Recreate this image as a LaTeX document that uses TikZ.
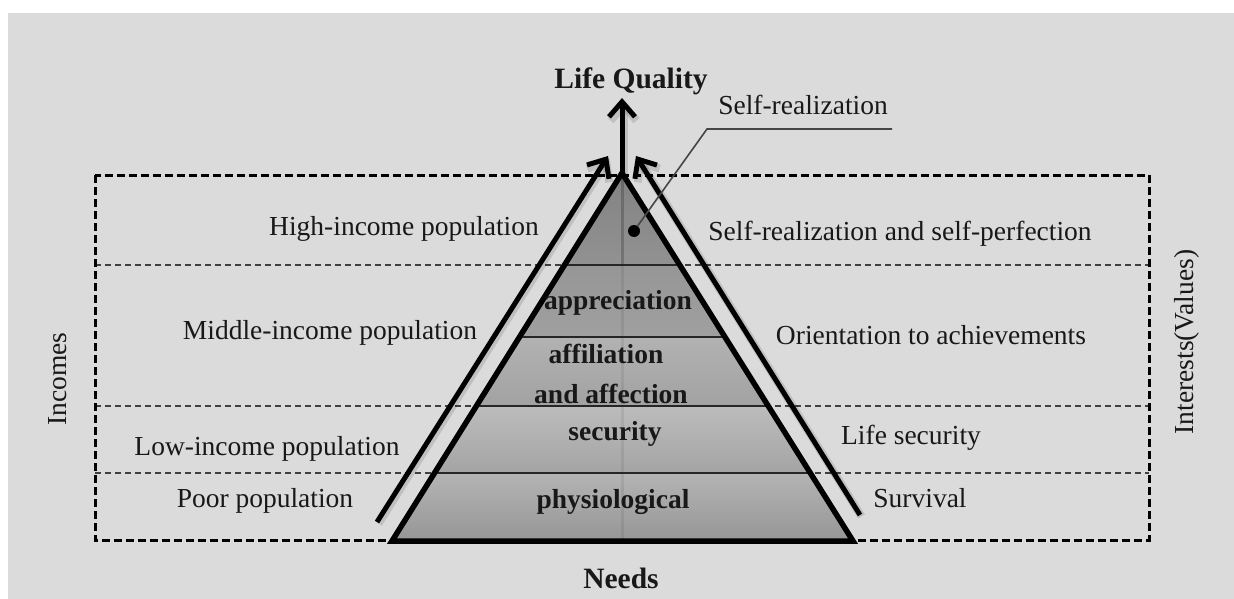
\documentclass[tikz,border=0pt]{standalone}
\usepackage{fontspec}
\setmainfont{Liberation Serif}
\usetikzlibrary{arrows.meta,calc}

\definecolor{paper}{RGB}{219,219,219}
\definecolor{ink}{RGB}{24,24,24}
\definecolor{leadgray}{RGB}{70,70,70}

\tikzset{
  txt/.style={font=\fontsize{27.5}{30}\selectfont, text=ink, inner sep=0pt, anchor=base},
  btxt/.style={txt, font=\fontsize{27.5}{30}\selectfont\bfseries},
  ttl/.style={txt, font=\fontsize{29.5}{32}\selectfont\bfseries},
  outerbox/.style={line width=3pt, dash pattern=on 8pt off 4pt, black},
  levelline/.style={line width=1.2pt, dash pattern=on 6pt off 4pt, black!75},
  bandline/.style={line width=1.3pt, black!85},
  growarrow/.style={line width=5pt, black, line cap=butt,
    -{Straight Barb[length=15pt,width=26pt]},
    preaction={draw=black, opacity=0.12, line width=8pt,
      transform canvas={shift={(1.5pt,-1.5pt)}}}},
  leader/.style={line width=1.6pt, leadgray},
}

\begin{document}
\begin{tikzpicture}[x=1pt, y=-1pt]
  \useasboundingbox (0,0) rectangle (1234,599);
  \fill[white] (0,0) rectangle (1234,599);
  \fill[paper] (8,13) rectangle (1234,599);

  % level separators and outer frame
  \draw[levelline] (95,265) -- (1149,265);
  \draw[levelline] (95,406) -- (1149,406);
  \draw[levelline] (95,473) -- (1149,473);
  \draw[outerbox] (95,175) rectangle (1149,540);

  % pyramid corners
  \coordinate (apex) at (622,173);
  \coordinate (bl) at (392,541);
  \coordinate (br) at (853,541);

  % pyramid bands, each with its own vertical gradient
  \shade[top color={rgb,255:red,130;green,130;blue,130}, bottom color={rgb,255:red,146;green,146;blue,146}]
    (apex) -- (679.8,265) -- (564.5,265) -- cycle;
  \shade[top color={rgb,255:red,150;green,150;blue,150}, bottom color={rgb,255:red,160;green,160;blue,160}]
    (564.5,265) -- (679.8,265) -- (725,337) -- (519.5,337) -- cycle;
  \shade[top color={rgb,255:red,178;green,178;blue,178}, bottom color={rgb,255:red,162;green,162;blue,162}]
    (519.5,337) -- (725,337) -- (768.3,406) -- (476.4,406) -- cycle;
  \shade[top color={rgb,255:red,188;green,188;blue,188}, bottom color={rgb,255:red,164;green,164;blue,164}]
    (476.4,406) -- (768.3,406) -- (810.4,473) -- (434.5,473) -- cycle;
  \shade[top color={rgb,255:red,180;green,180;blue,180}, bottom color={rgb,255:red,150;green,150;blue,150}]
    (434.5,473) -- (810.4,473) -- (br) -- (bl) -- cycle;

  % faint central axis
  \draw[line width=3pt, black, opacity=0.2] (apex) -- (622,265);
  \draw[line width=3pt, black, opacity=0.07] (622,265) -- (622,541);

  % band borders
  \draw[bandline] (564.5,265) -- (679.8,265);
  \draw[bandline] (519.5,337) -- (725,337);
  \draw[bandline] (476.4,406) -- (768.3,406);
  \draw[bandline] (434.5,473) -- (810.4,473);

  % pyramid outline
  \draw[line width=5.5pt, black, line join=miter] (apex) -- (br) -- (bl) -- cycle;

  % growth arrows
  \coordinate (la0) at (377,522);
  \coordinate (la1) at (608,156);
  \coordinate (ra0) at (860,515);
  \coordinate (ra1) at (636,156);
  \coordinate (ca1) at (622,98);
  \draw[growarrow] (la0) -- (la1);
  \draw[growarrow] (ra0) -- (ra1);
  \draw[growarrow] (apex) -- (ca1);

  % self-realization marker with leader
  \node[circle, fill=black, inner sep=0pt, minimum size=12pt] (dot) at (634,231) {};
  \coordinate (bend) at (707,129);
  \coordinate (lend) at (892,129);
  \draw[leader] (dot) -- (bend) -- (lend);
  \node[txt] (selfr) at (803,115) {Self-realization};

  % titles
  \node[ttl] (lq) at (631,89) {Life Quality};
  \node[ttl] (needs) at (621,588) {Needs};
  \node[txt, anchor=center, rotate=90] (inc) at (58,379) {Incomes};
  \node[txt, anchor=center, rotate=90] (intv) at (1187,342) {Interests(Values)};

  % incomes (left)
  \node[txt] (hi) at (404,235) {High-income population};
  \node[txt] (mid) at (330,339) {Middle-income population};
  \node[txt] (low) at (267,455) {Low-income population};
  \node[txt] (poor) at (265,507) {Poor population};

  % interests (right)
  \node[txt] (sp) at (900,240) {Self-realization and self-perfection};
  \node[txt] (ach) at (931,344) {Orientation to achievements};
  \node[txt] (ls) at (911,444) {Life security};
  \node[txt] (surv) at (920,507) {Survival};

  % needs (inside the pyramid)
  \node[btxt] (appr) at (618,309) {appreciation};
  \node[btxt] (aff1) at (606,363) {affiliation};
  \node[btxt] (aff2) at (611,403) {and affection};
  \node[btxt] (sec) at (615,440) {security};
  \node[btxt] (phys) at (613,508) {physiological};
\end{tikzpicture}
\end{document}
